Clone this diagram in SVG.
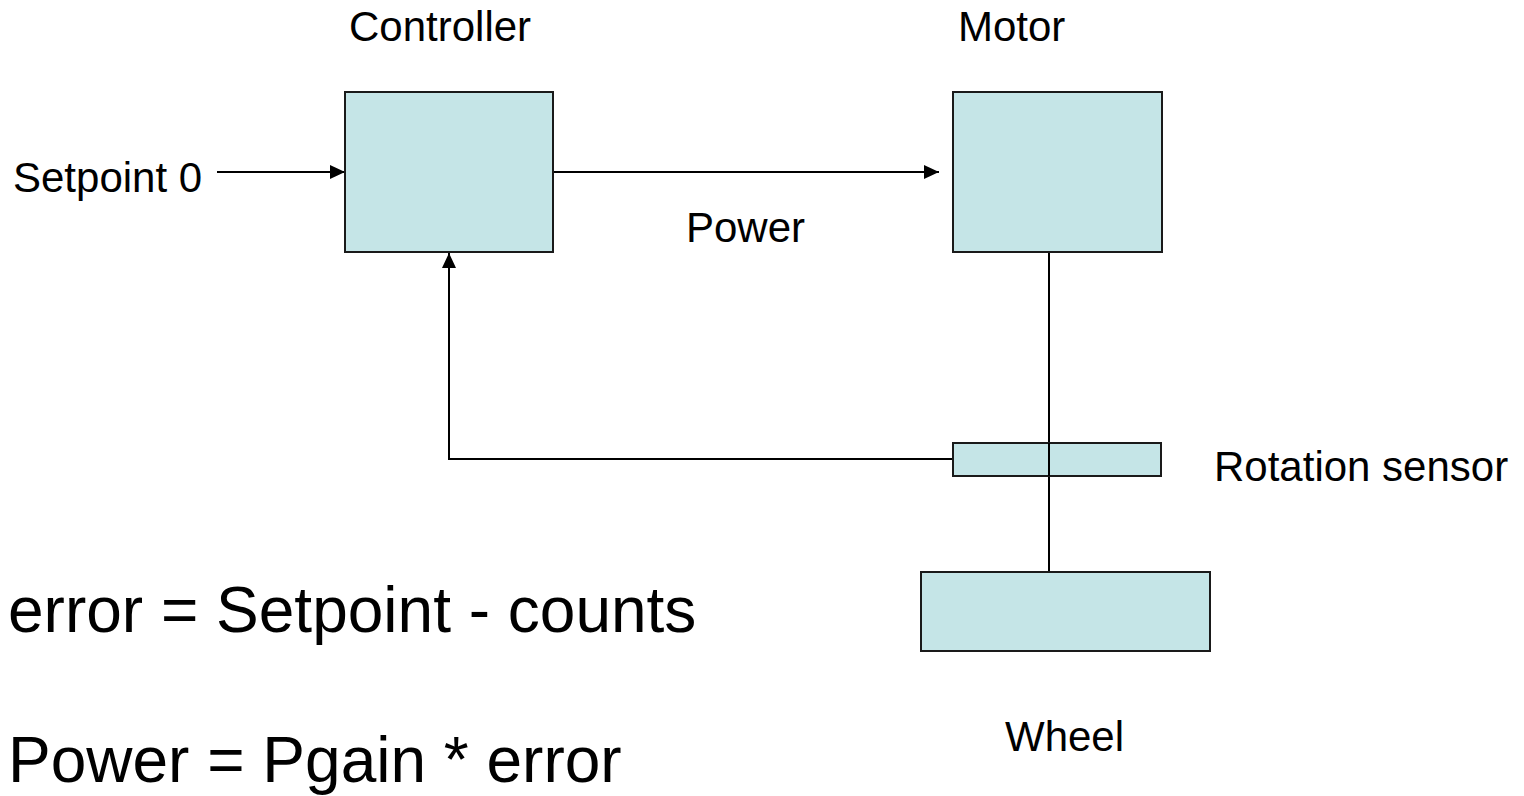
<svg xmlns="http://www.w3.org/2000/svg" width="1524" height="796" viewBox="0 0 1524 796">
  <style>
    .block { fill: #c5e5e7; stroke: #1a1a1a; stroke-width: 2; }
    .wire { fill: none; stroke: #000; stroke-width: 2; }
    .label { font-family: "Liberation Sans", Arial, sans-serif; font-size: 42px; fill: #000; }
    .eq { font-family: "Liberation Sans", Arial, sans-serif; font-size: 64px; fill: #000; }
  </style>
  <defs>
    <marker id="arrow" viewBox="0 0 15 14" refX="15" refY="7" markerWidth="15" markerHeight="14" markerUnits="userSpaceOnUse" orient="auto">
      <path d="M0,0 L15,7 L0,14 Z" fill="#000"/>
    </marker>
  </defs>
  <rect width="1524" height="796" fill="#fff"/>

  <!-- connectors -->
  <g id="connectors">
    <line class="wire" x1="217" y1="172" x2="345" y2="172" marker-end="url(#arrow)"/>
    <line class="wire" x1="553" y1="172" x2="939" y2="172" marker-end="url(#arrow)"/>
    <polyline class="wire" points="953,459 449,459 449,253" marker-end="url(#arrow)"/>
    <line class="wire" x1="1049" y1="252" x2="1049" y2="572"/>
  </g>

  <g id="controller">
    <rect class="block" x="345" y="92" width="208" height="160"/>
    <text class="label" x="349" y="41">Controller</text>
  </g>

  <g id="motor">
    <rect class="block" x="953" y="92" width="209" height="160"/>
    <text class="label" x="958" y="41">Motor</text>
  </g>

  <g id="rotation-sensor">
    <rect class="block" x="953" y="443" width="208" height="33"/>
    <line class="wire" x1="1049" y1="443" x2="1049" y2="476"/>
    <text class="label" x="1214" y="481">Rotation sensor</text>
  </g>

  <g id="wheel">
    <rect class="block" x="921" y="572" width="289" height="79"/>
    <text class="label" x="1005" y="751">Wheel</text>
  </g>

  <g id="labels">
    <text class="label" x="13" y="192">Setpoint 0</text>
    <text class="label" x="686" y="242">Power</text>
    <text class="eq" x="8" y="632">error = Setpoint - counts</text>
    <text class="eq" x="8" y="782">Power = Pgain * error</text>
  </g>
</svg>
